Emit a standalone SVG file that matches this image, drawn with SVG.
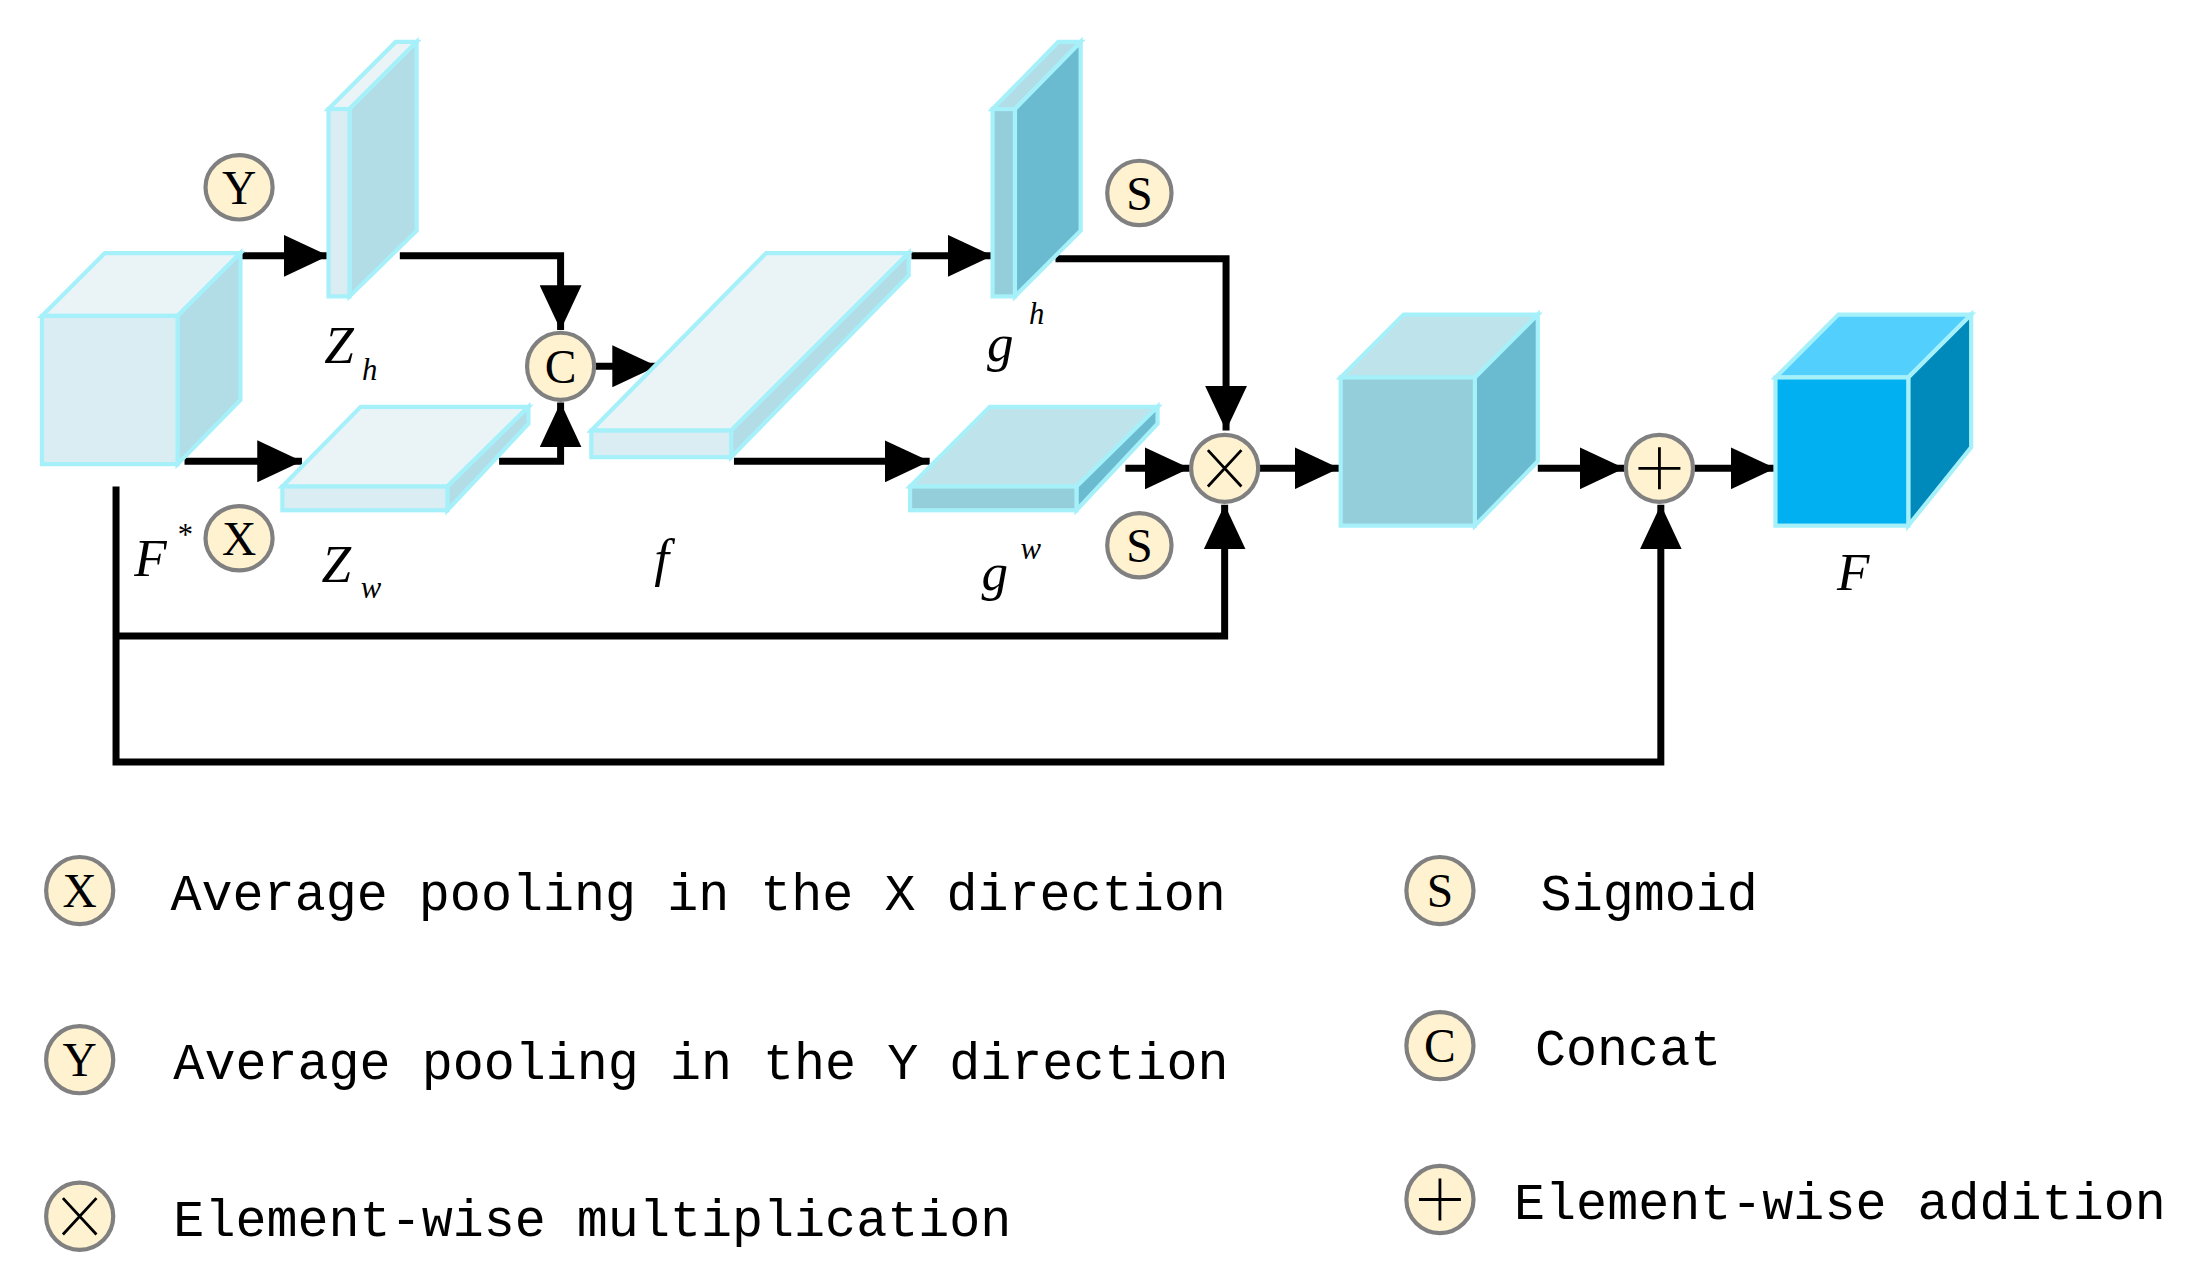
<svg xmlns="http://www.w3.org/2000/svg" width="2192" height="1272" viewBox="0 0 2192 1272">
<style>
.e{stroke:#a6f0fa;stroke-width:3;stroke-linejoin:miter}
.ln{fill:none;stroke:#000;stroke-width:5;stroke-linejoin:miter}
.op{fill:#fef2d0;stroke:#808080;stroke-width:3}
.sy{font-family:"Liberation Serif",serif;font-size:34px;text-anchor:middle}
.lb{font-family:"Liberation Serif",serif;font-style:italic;font-size:38px}
.sp{font-family:"Liberation Serif",serif;font-style:italic;font-size:22px}
.lg{font-family:"Liberation Mono",monospace;font-size:37px}
</style>
<defs>
<marker id="a" markerUnits="userSpaceOnUse" markerWidth="34" markerHeight="30" refX="32" refY="15" orient="auto"><path d="M0,0 L32,15 L0,30 Z" fill="#000"/></marker>
</defs>
<rect width="2192" height="1272" fill="#fff"/>
<g transform="scale(1.398)">
<g id="connectors">
<path class="ln" d="M172,183 H235" marker-end="url(#a)"/>
<path class="ln" d="M132,330 H216" marker-end="url(#a)"/>
<path class="ln" d="M286,183 H401 V236" marker-end="url(#a)"/>
<path class="ln" d="M357,330 H401 V288" marker-end="url(#a)"/>
<path class="ln" d="M424,262 H470" marker-end="url(#a)"/>
<path class="ln" d="M652,183 H710" marker-end="url(#a)"/>
<path class="ln" d="M525,330 H665" marker-end="url(#a)"/>
<path class="ln" d="M755,185 H877 V308" marker-end="url(#a)"/>
<path class="ln" d="M805,335 H851" marker-end="url(#a)"/>
<path class="ln" d="M901,335 H958" marker-end="url(#a)"/>
<path class="ln" d="M1100,335 H1162" marker-end="url(#a)"/>
<path class="ln" d="M1212,335 H1270" marker-end="url(#a)"/>
<path class="ln" d="M83,348 V545 H1188 V361" marker-end="url(#a)"/>
<path class="ln" d="M83,455 H876 V361" marker-end="url(#a)"/>
</g>
<g id="Fstar">
<polygon class="e" fill="#eaf4f7" points="30,226 75,181 172,181 127,226"/>
<polygon class="e" fill="#b2dce6" points="127,226 172,181 172,286 127,332"/>
<rect class="e" fill="#daedf3" x="30" y="226" width="97" height="106"/>
<text class="lb" x="96" y="412">F</text><text class="sp" x="126" y="390">*</text>
</g>
<g id="Zh">
<polygon class="e" fill="#eaf4f7" points="235,78 283,30 298,30 250,78"/>
<polygon class="e" fill="#b2dce6" points="250,78 298,30 298,165 250,212"/>
<rect class="e" fill="#daedf3" x="235" y="78" width="15" height="134"/>
<text class="lb" x="232" y="260">Z</text><text class="sp" x="259" y="272">h</text>
</g>
<g id="Zw">
<polygon class="e" fill="#eaf4f7" points="202,348 258,291 378,291 320,348"/>
<polygon class="e" fill="#b2dce6" points="320,348 378,291 378,303 320,365"/>
<rect class="e" fill="#daedf3" x="202" y="348" width="118" height="17"/>
<text class="lb" x="230" y="416">Z</text><text class="sp" x="258" y="428">w</text>
</g>
<g id="f">
<polygon class="e" fill="#eaf4f7" points="423,308 548,181 650,181 523,308"/>
<polygon class="e" fill="#b2dce6" points="523,308 650,181 650,197 523,327"/>
<rect class="e" fill="#daedf3" x="423" y="308" width="100" height="19"/>
<text class="lb" x="468" y="412">f</text>
</g>
<g id="gh">
<polygon class="e" fill="#b2dce6" points="710,78 757,30 773,30 726,78"/>
<polygon class="e" fill="#6bbbd0" points="726,78 773,30 773,165 726,212"/>
<rect class="e" fill="#94cedb" x="710" y="78" width="16" height="134"/>
<text class="lb" x="706" y="258">g</text><text class="sp" x="736" y="232">h</text>
</g>
<g id="gw">
<polygon class="e" fill="#bee3ea" points="651,348 708,291 828,291 770,348"/>
<polygon class="e" fill="#6bbbd0" points="770,348 828,291 828,303 770,365"/>
<rect class="e" fill="#94cedb" x="651" y="348" width="119" height="17"/>
<text class="lb" x="702" y="422">g</text><text class="sp" x="730" y="400">w</text>
</g>
<g id="mid">
<polygon class="e" fill="#bee3ea" points="959,270 1004,225 1100,225 1055,270"/>
<polygon class="e" fill="#6bbbd0" points="1055,270 1100,225 1100,330 1055,376"/>
<rect class="e" fill="#94cedb" x="959" y="270" width="96" height="106"/>
</g>
<g id="F">
<polygon class="e" fill="#53cffd" points="1270,270 1315,225 1410,225 1365,270"/>
<polygon class="e" fill="#0089bb" points="1365,270 1410,225 1410,320 1365,376"/>
<rect class="e" fill="#00b0f0" x="1270" y="270" width="95" height="106"/>
<text class="lb" x="1314" y="422">F</text>
</g>
<g id="opY"><ellipse class="op" cx="171" cy="134" rx="24" ry="23"/><text class="sy" x="171" y="146">Y</text></g>
<g id="opX"><ellipse class="op" cx="171" cy="385" rx="24" ry="23"/><text class="sy" x="171" y="397">X</text></g>
<g id="opC"><ellipse class="op" cx="401" cy="262" rx="24" ry="24"/><text class="sy" x="401" y="274">C</text></g>
<g id="opS1"><ellipse class="op" cx="815" cy="138" rx="23" ry="23"/><text class="sy" x="815" y="150">S</text></g>
<g id="opS2"><ellipse class="op" cx="815" cy="390" rx="23" ry="23"/><text class="sy" x="815" y="402">S</text></g>
<g id="opMul"><ellipse class="op" cx="876" cy="335" rx="24" ry="24"/><path d="M864,322 L888,348 M888,322 L864,348" stroke="#000" stroke-width="2"/></g>
<g id="opAdd"><ellipse class="op" cx="1187" cy="335" rx="24" ry="24"/><path d="M1172,335 H1202 M1187,320 V350" stroke="#000" stroke-width="2"/></g>
<g id="legend">
<ellipse class="op" cx="57" cy="637" rx="24" ry="24"/><text class="sy" x="57" y="649">X</text>
<text class="lg" x="122" y="651">Average pooling in the X direction</text>
<ellipse class="op" cx="57" cy="758" rx="24" ry="24"/><text class="sy" x="57" y="770">Y</text>
<text class="lg" x="124" y="772">Average pooling in the Y direction</text>
<ellipse class="op" cx="57" cy="870" rx="24" ry="24"/><path d="M45,857 L69,883 M69,857 L45,883" stroke="#000" stroke-width="2"/>
<text class="lg" x="124" y="884">Element-wise multiplication</text>
<ellipse class="op" cx="1030" cy="637" rx="24" ry="24"/><text class="sy" x="1030" y="649">S</text>
<text class="lg" x="1102" y="651">Sigmoid</text>
<ellipse class="op" cx="1030" cy="748" rx="24" ry="24"/><text class="sy" x="1030" y="760">C</text>
<text class="lg" x="1098" y="762">Concat</text>
<ellipse class="op" cx="1030" cy="858" rx="24" ry="24"/><path d="M1015,858 H1045 M1030,843 V873" stroke="#000" stroke-width="2"/>
<text class="lg" x="1083" y="872">Element-wise addition</text>
</g>
</g>
</svg>
